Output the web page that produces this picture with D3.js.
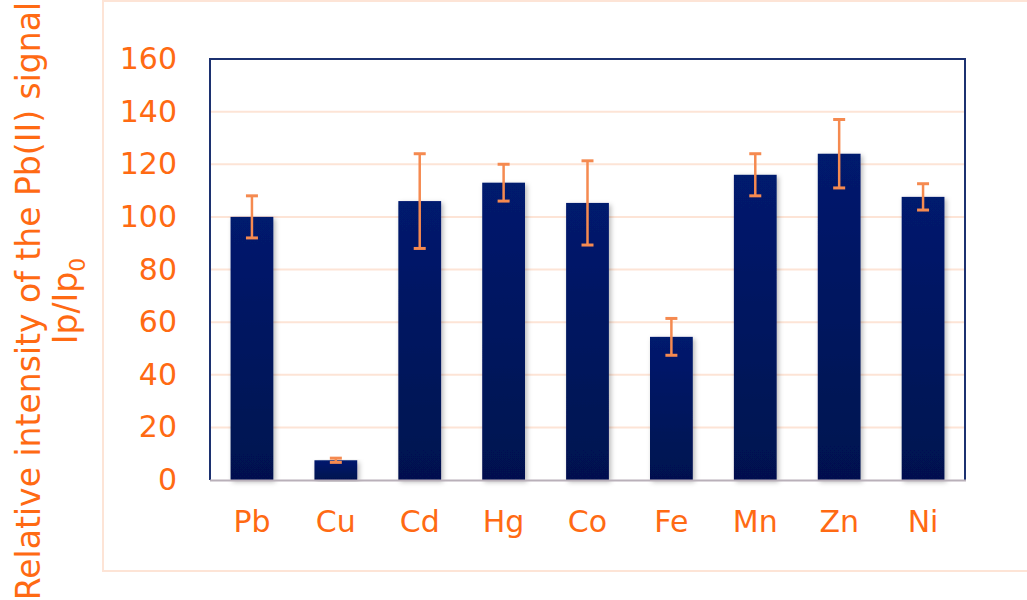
<!DOCTYPE html>
<html>
<head>
<meta charset="utf-8">
<script src="https://cdn.jsdelivr.net/npm/d3@7/dist/d3.min.js"></script>
<style>
  html, body { margin: 0; padding: 0; background: #fff; }
  svg { display: block; font-family: "DejaVu Sans", Verdana, sans-serif; }
</style>
</head>
<body>
<svg id="chart" width="1027" height="600"></svg>
<script>
// Relative Pb(II) signal in presence of interfering metal ions
const metals = ["Pb", "Cu", "Cd", "Hg", "Co", "Fe", "Mn", "Zn", "Ni"];
const intensity = [100, 7.5, 106, 113, 105.3, 54.4, 116, 124, 107.6];
const errors = [8, 0.8, 18, 7, 16, 7, 8, 13, 5];
const yTicks = [0, 20, 40, 60, 80, 100, 120, 140, 160];

const orange = "#ff6a13";
const errColor = "#f58a50";
const gridColor = "#fde4d6";
const navy = "#1c3170";

const svg = d3.select("#chart");
const plot = { left: 210, right: 965, top: 59, bottom: 480 };

const x = d3.scaleBand().domain(metals).range([plot.left, plot.right]).paddingInner(0.49).paddingOuter(0.245);
const y = d3.scaleLinear().domain([0, 160]).range([plot.bottom, plot.top]);

const defs = svg.append("defs");
const grad = defs.append("linearGradient").attr("id", "barFill").attr("x1", 0).attr("y1", 0).attr("x2", 0).attr("y2", 1);
grad.append("stop").attr("offset", "0%").attr("stop-color", "#001a6e");
grad.append("stop").attr("offset", "100%").attr("stop-color", "#00114f");
const shadow = defs.append("filter").attr("id", "barShadow").attr("x", "-20%").attr("y", "-5%").attr("width", "150%").attr("height", "115%");
shadow.append("feDropShadow").attr("dx", 2).attr("dy", 2).attr("stdDeviation", 2.5)
  .attr("flood-color", "#000").attr("flood-opacity", 0.28);

// outer chart frame
svg.append("rect").attr("x", 103).attr("y", 1).attr("width", 940).attr("height", 570)
  .attr("fill", "none").attr("stroke", gridColor).attr("stroke-width", 2);

// gridlines
svg.append("g").selectAll("line").data(yTicks.filter(d => d > 0 && d < 160)).join("line")
  .attr("x1", plot.left).attr("x2", plot.right)
  .attr("y1", d => y(d)).attr("y2", d => y(d))
  .attr("stroke", gridColor).attr("stroke-width", 2);

// bars
svg.append("g").selectAll("rect").data(metals).join("rect")
  .attr("x", d => x(d)).attr("width", x.bandwidth())
  .attr("y", (d, i) => y(intensity[i]))
  .attr("height", (d, i) => y(0) - y(intensity[i]))
  .attr("fill", "url(#barFill)")
  .attr("filter", "url(#barShadow)");

// error bars
const eb = svg.append("g").attr("stroke", errColor).attr("stroke-width", 2.5);
metals.forEach((m, i) => {
  const cx = x(m) + x.bandwidth() / 2;
  const hi = y(intensity[i] + errors[i]), lo = y(intensity[i] - errors[i]);
  eb.append("line").attr("x1", cx).attr("x2", cx).attr("y1", hi).attr("y2", lo);
  eb.append("line").attr("x1", cx - 6).attr("x2", cx + 6).attr("y1", hi).attr("y2", hi).attr("stroke-width", 3);
  eb.append("line").attr("x1", cx - 6).attr("x2", cx + 6).attr("y1", lo).attr("y2", lo).attr("stroke-width", 3);
});

// plot border
svg.append("path")
  .attr("d", `M${plot.left},${plot.bottom}V${plot.top}H${plot.right}V${plot.bottom}`)
  .attr("fill", "none").attr("stroke", navy).attr("stroke-width", 2);
svg.append("line").attr("x1", plot.left).attr("x2", plot.right + 1)
  .attr("y1", plot.bottom + 0.5).attr("y2", plot.bottom + 0.5)
  .attr("stroke", "#b9b0b9").attr("stroke-width", 2);

// y axis
const yAxis = svg.append("g").attr("transform", `translate(${plot.left},0)`)
  .call(d3.axisLeft(y).tickValues(yTicks).tickSize(0).tickPadding(33));
yAxis.select(".domain").remove();
yAxis.selectAll("text").attr("fill", orange).attr("font-size", 30)
  .attr("font-family", "DejaVu Sans, Verdana, sans-serif");

// x axis
const xAxis = svg.append("g").attr("transform", `translate(0,${plot.bottom})`)
  .call(d3.axisBottom(x).tickSize(0).tickPadding(31));
xAxis.select(".domain").remove();
xAxis.selectAll("text").attr("fill", orange).attr("font-size", 30)
  .attr("font-family", "DejaVu Sans, Verdana, sans-serif");

// y axis title
const title = svg.append("text")
  .attr("transform", "translate(0,301) rotate(-90)")
  .attr("text-anchor", "middle").attr("fill", orange).attr("font-size", 33);
title.append("tspan").attr("x", 0).attr("y", 40).text("Relative intensity of the Pb(II) signal");
const l2 = title.append("tspan").attr("x", 0).attr("y", 77);
l2.text("Ip/Ip");
title.append("tspan").attr("dy", 8).attr("font-size", 22).text("0");
</script>
</body>
</html>
